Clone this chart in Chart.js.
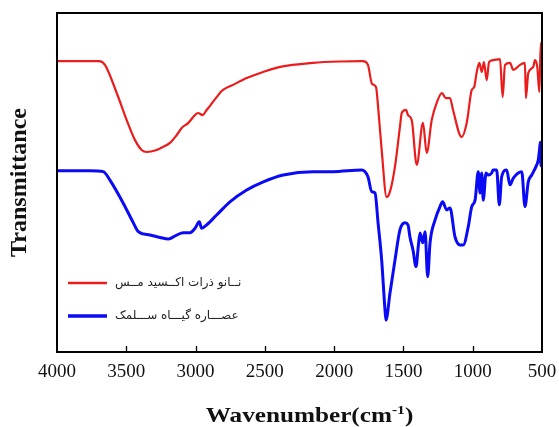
<!DOCTYPE html>
<html><head><meta charset="utf-8">
<script src="https://cdn.jsdelivr.net/npm/chart.js@4.4.1/dist/chart.umd.min.js"></script>
<style>html,body{margin:0;padding:0;background:#fff}#wrap{width:559px;height:427px}</style>
</head><body><div id="wrap"><canvas id="c" width="559" height="427"></canvas></div>
<script>
const xTickValues = [4000, 3500, 3000, 2500, 2000, 1500, 1000, 500];
const seriesNames = ["نــانو ذرات اکــسید مــس", "عصـــاره گیـــاه ســـلمک"];
const xTitleMain = "Wavenumber(cm";
const xTitleSup = "-1";
const xTitleEnd = ")";
const yTitle = "Transmittance";

const redWavenumber = [4000,3697,3654,3569,3497,3437,3389,3353,3281,3235,3185,3136,3100,3052,3004,2982,2949,2920,2896,2848,2802,2730,2631,2513,2390,2153,1958,1792,1756,1727,1698,1681,1657,1621,1597,1561,1525,1512,1481,1467,1440,1404,1359,1332,1296,1260,1222,1195,1164,1142,1080,1043,1007,989,971,952,935,919,899,882,851,803,784,767,731,707,659,623,616,599,563,551,534,519,509,500];
const redTransmittance = [85.8,85.8,84.7,76.4,68.4,62.5,59.6,59.0,59.6,60.5,61.7,64.0,66.1,67.6,69.9,70.5,69.9,71.4,72.6,75.2,77.3,78.8,80.8,82.6,84.1,85.3,85.7,85.8,84.7,79.1,78.2,71.4,59.6,45.7,47.3,54.7,66.5,70.5,71.4,69.9,68.4,55.2,67.6,58.7,68.4,73.5,76.4,74.9,74.9,71.4,63.4,67.6,77.3,78.2,82.6,85.3,82.6,85.5,80.2,85.5,86.1,86.4,75.2,84.7,85.3,83.2,84.7,85.3,74.9,82.3,84.1,86.1,84.1,76.7,91.2,84.7];

const blueWavenumber = [4000,3762,3666,3618,3522,3449,3413,3329,3257,3197,3136,3089,3040,3004,2973,2956,2920,2848,2752,2631,2511,2367,2153,2008,1801,1756,1729,1705,1683,1657,1633,1626,1597,1561,1525,1489,1467,1453,1431,1409,1393,1380,1361,1344,1325,1308,1272,1236,1217,1188,1164,1128,1092,1068,1032,1007,983,960,947,935,924,904,888,863,854,827,808,791,755,731,707,646,623,599,574,538,527,518,512,507,500];
const blueTransmittance = [53.5,53.5,53.2,50.7,43.9,38.1,35.5,34.5,33.8,33.3,34.5,35.2,35.2,36.5,38.4,36.5,37.5,40.4,44.3,47.8,50.2,52.2,53.2,53.2,53.7,51.7,47.3,46.9,38.1,27.1,12.4,9.4,17.4,27.1,36.0,38.1,37.5,33.9,30.1,25.2,31.1,35.1,32.2,35.5,22.2,32.2,38.9,42.9,44.3,41.9,42.5,34.0,31.6,31.6,37.0,42.9,44.8,53.2,46.9,52.8,44.8,52.8,52.2,52.8,53.7,53.7,43.4,51.7,53.7,49.3,51.3,53.2,42.9,50.2,52.2,55.2,56.6,59.6,61.9,54.9,58.1];

const toPoints = (xs, ys) => xs.map((x, i) => ({x: x, y: ys[i]}));

const framePlugin = {
  id: 'frameAndExtras',
  afterDraw(chart) {
    const {ctx, chartArea: a, scales: {x}} = chart;
    ctx.save();
    ctx.strokeStyle = '#000';
    ctx.lineWidth = 2;
    ctx.strokeRect(a.left, a.top, a.right - a.left, a.bottom - a.top);
    ctx.lineWidth = 1.3;
    xTickValues.forEach(v => {
      if (v === x.min || v === x.max) return;
      const px = Math.round(x.getPixelForValue(v)) + 0.5;
      ctx.beginPath();
      ctx.moveTo(px, a.bottom);
      ctx.lineTo(px, a.bottom - 6);
      ctx.stroke();
    });
    const legendRows = [a.bottom - 69, a.bottom - 36];
    chart.data.datasets.forEach((ds, i) => {
      const yy = legendRows[i];
      ctx.strokeStyle = ds.borderColor;
      ctx.lineWidth = ds.borderWidth + 0.5;
      ctx.beginPath();
      ctx.moveTo(a.left + 11, yy);
      ctx.lineTo(a.left + 50, yy);
      ctx.stroke();
      ctx.fillStyle = '#222';
      ctx.font = '12px "DejaVu Sans"';
      ctx.textAlign = 'left';
      ctx.textBaseline = 'middle';
      ctx.fillText(ds.label, a.left + 58, yy);
    });
    const mainFont = 'bold 21px "Liberation Serif"';
    const supFont = 'bold 13px "Liberation Serif"';
    ctx.fillStyle = '#111';
    ctx.textBaseline = 'alphabetic';
    ctx.font = mainFont;
    const w1 = ctx.measureText(xTitleMain).width;
    const w3 = ctx.measureText(xTitleEnd).width;
    ctx.font = supFont;
    const w2 = ctx.measureText(xTitleSup).width;
    const sx = 1.2;
    const total = (w1 + w2 + w3) * sx;
    const cx = (a.left + a.right) / 2 + 10;
    const baseY = 422;
    ctx.translate(cx - total / 2, baseY);
    ctx.scale(sx, 1);
    ctx.font = mainFont;
    ctx.fillText(xTitleMain, 0, 0);
    ctx.font = supFont;
    ctx.fillText(xTitleSup, w1, -8);
    ctx.font = mainFont;
    ctx.fillText(xTitleEnd, w1 + w2, 0);
    ctx.restore();
  }
};

new Chart(document.getElementById('c'), {
  type: 'line',
  data: {
    datasets: [
      {label: seriesNames[0], data: toPoints(redWavenumber, redTransmittance), borderColor: '#ea1c1c', borderWidth: 2.2, pointRadius: 0, cubicInterpolationMode: 'monotone', fill: false},
      {label: seriesNames[1], data: toPoints(blueWavenumber, blueTransmittance), borderColor: '#0a0af5', borderWidth: 3, pointRadius: 0, cubicInterpolationMode: 'monotone', fill: false}
    ]
  },
  options: {
    responsive: false,
    animation: false,
    devicePixelRatio: 1,
    layout: {padding: {top: 13, right: 17, left: 0, bottom: 0}},
    plugins: {legend: {display: false}, tooltip: {enabled: false}},
    scales: {
      x: {
        type: 'linear', reverse: true, min: 500, max: 4000,
        grid: {display: false, drawTicks: false},
        border: {display: false},
        afterBuildTicks: s => { s.ticks = xTickValues.map(v => ({value: v})); },
        afterFit: s => { s.height = 75; s.paddingLeft = 0; s.paddingRight = 0; },
        ticks: {autoSkip: false, maxRotation: 0, padding: 9, color: '#111', font: {family: '"Liberation Serif"', size: 19}, callback: v => String(v)}
      },
      y: {
        min: 0, max: 100,
        grid: {display: false, drawTicks: false},
        border: {display: false},
        ticks: {display: false},
        afterFit: s => { s.width = 57; },
        title: {display: true, text: yTitle, color: '#111', padding: {top: 8, bottom: 0}, font: {family: '"Liberation Serif"', size: 24, weight: 'bold', lineHeight: 1}}
      }
    }
  },
  plugins: [framePlugin]
});
</script>
</body></html>
